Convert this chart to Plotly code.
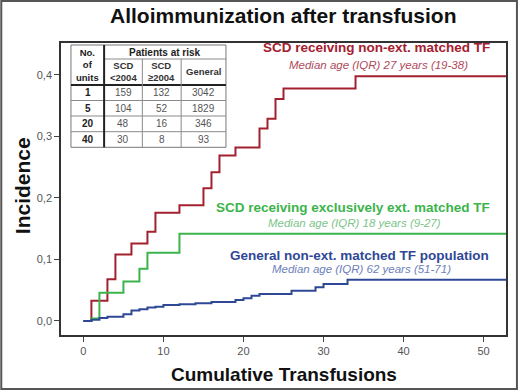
import plotly.graph_objects as go

# ---- data ----
red_t = [0, 1, 3, 4, 6, 8, 9, 12, 15, 16, 17, 19, 22, 23, 24, 25, 34, 53]
red_v = [0, 0.033, 0.068, 0.108, 0.126, 0.145, 0.176, 0.188, 0.216, 0.242, 0.269,
         0.282, 0.313, 0.329, 0.361, 0.378, 0.398, 0.398]
green_t = [0, 1, 2, 5, 7, 8, 12, 53]
green_v = [0, 0.004, 0.046, 0.064, 0.085, 0.111, 0.142, 0.142]
blue_t = [0, 1, 2, 3, 5, 6, 7, 8, 9, 10, 12, 14, 16, 19, 20, 21, 22, 26, 29, 30, 33, 53]
blue_v = [0, 0.002, 0.005, 0.007, 0.011, 0.017, 0.019, 0.022, 0.023, 0.026, 0.027,
          0.029, 0.031, 0.034, 0.037, 0.041, 0.044, 0.049, 0.055, 0.060, 0.067, 0.067]

series_names = ["SCD receiving non-ext. matched TF",
                "SCD receiving exclusively ext. matched TF",
                "General non-ext. matched TF population"]
series_ages = ["Median age (IQR) 27 years (19-38)",
               "Median age (IQR) 18 years (9-27)",
               "Median age (IQR) 62 years (51-71)"]

units = ["1", "5", "20", "40"]
scd_pre = [159, 104, 48, 30]
scd_post = [132, 52, 16, 8]
general = [3042, 1829, 346, 93]
table_header = ["No.<br>of<br>units", "SCD<br><2004", "SCD<br>≥2004", "General"]

x_ticks = [0, 10, 20, 30, 40, 50]
y_ticks = [0.0, 0.1, 0.2, 0.3, 0.4]

# ---- layout geometry (pixels) ----
W, H = 520, 390
ML, MR, MT, MB = 61, 12, 43, 55
PW, PH = W - ML - MR, H - MT - MB


def px(x):
    return (x - ML) / PW


def py(y):
    return (H - MB - y) / PH


FONT = "Liberation Sans, Arial, sans-serif"
RED, GREEN, BLUE = "#a3202f", "#3cb44b", "#2f4896"

fig = go.Figure()
for t, v, c in [(red_t, red_v, RED), (green_t, green_v, GREEN), (blue_t, blue_v, BLUE)]:
    fig.add_trace(go.Scatter(x=t, y=v, mode="lines", line=dict(color=c, width=2, shape="hv"),
                             showlegend=False, hoverinfo="skip"))

shapes = []
ann = []


def note(text, x, y, size, color, **kw):
    d = dict(text=text, x=px(x), y=py(y), xref="paper", yref="paper", showarrow=False,
             xanchor="center", yanchor="middle",
             font=dict(family=FONT, size=size, color=color))
    d.update(kw)
    ann.append(d)


# outer border
shapes.append(dict(type="rect", xref="paper", yref="paper", x0=px(1), x1=px(W - 1),
                   y0=py(H - 1), y1=py(1), line=dict(color="#555", width=2)))

# legend-like annotations
label_specs = [
    (series_names[0], series_ages[0], 378, 48, 65, RED, "#b14a5a"),
    (series_names[1], series_ages[1], 354, 208, 223, GREEN, "#7cc489"),
    (series_names[2], series_ages[2], 361, 255, 269, BLUE, "#6d80bb"),
]
for name, age, cx, y1, y2, c1, c2 in label_specs:
    note("<b>" + name + "</b>", cx, y1, 13.5, c1)
    note("<i>" + age + "</i>", cx + 2, y2, 11.5, c2)

# ---- table ----
cols = [71, 104.3, 142.7, 181.7, 226.7]
rows = [45, 59, 85, 100.5, 116, 131.7, 147.3]
shapes.append(dict(type="rect", xref="paper", yref="paper", x0=px(cols[0]), x1=px(cols[-1]),
                   y0=py(rows[-1]), y1=py(rows[0]), fillcolor="white",
                   line=dict(color="#777", width=1)))
thin = dict(color="#8a8a8a", width=1)
thick = dict(color="#222", width=2)
shapes.append(dict(type="line", xref="paper", yref="paper", x0=px(cols[1]), x1=px(cols[-1]),
                   y0=py(rows[1]), y1=py(rows[1]), line=thin))
shapes.append(dict(type="line", xref="paper", yref="paper", x0=px(cols[0]), x1=px(cols[-1]),
                   y0=py(rows[2]), y1=py(rows[2]), line=thick))
for r in rows[3:6]:
    shapes.append(dict(type="line", xref="paper", yref="paper", x0=px(cols[0]), x1=px(cols[-1]),
                       y0=py(r), y1=py(r), line=thin))
shapes.append(dict(type="line", xref="paper", yref="paper", x0=px(cols[1]), x1=px(cols[1]),
                   y0=py(rows[-1]), y1=py(rows[0]), line=thick))
for c in cols[2:4]:
    shapes.append(dict(type="line", xref="paper", yref="paper", x0=px(c), x1=px(c),
                       y0=py(rows[-1]), y1=py(rows[1]), line=thin))

TF = 9.5
note("<b>" + table_header[0] + "</b>", (cols[0] + cols[1]) / 2, (rows[0] + rows[2]) / 2,
     TF, "#222", align="center")
note("<b>Patients at risk</b>", (cols[1] + cols[-1]) / 2, (rows[0] + rows[1]) / 2, 10, "#222")
for i in range(3):
    note("<b>" + table_header[i + 1] + "</b>", (cols[i + 1] + cols[i + 2]) / 2,
         (rows[1] + rows[2]) / 2, TF, "#333", align="center")
for r in range(4):
    yc = (rows[r + 2] + rows[r + 3]) / 2
    note("<b>" + units[r] + "</b>", (cols[0] + cols[1]) / 2, yc, 10, "#222")
    for j, arr in enumerate([scd_pre, scd_post, general]):
        note(str(arr[r]), (cols[j + 1] + cols[j + 2]) / 2, yc, 10, "#555")

# titles
note("<b>Alloimmunization after transfusion</b>", 284, 16, 21, "#111")
note("<b>Cumulative Transfusions</b>", 285, 374, 19, "#111")
note("<b>Incidence</b>", 22, 186, 21, "#111", textangle=-90)

fig.update_layout(
    width=W, height=H, margin=dict(l=ML, r=MR, t=MT, b=MB),
    paper_bgcolor="white", plot_bgcolor="white",
    separators=",.",
    font=dict(family=FONT),
    xaxis=dict(range=[-2.8, 52.8], tickvals=x_ticks, ticks="outside", ticklen=5,
               tickcolor="#444", showgrid=False, zeroline=False, showline=True,
               linecolor="#333", linewidth=1.5, mirror=True,
               tickfont=dict(family=FONT, size=11, color="#555")),
    yaxis=dict(range=[-0.0228, 0.452], tickvals=y_ticks, tickformat=".1f", ticks="outside",
               ticklen=5, tickcolor="#444", showgrid=False, zeroline=False, showline=True,
               linecolor="#333", linewidth=1.5, mirror=True,
               tickfont=dict(family=FONT, size=11, color="#555")),
    shapes=shapes, annotations=ann,
)

fig.write_html("out.html", config={"displayModeBar": False},
               post_script="document.body.style.margin='0';")
